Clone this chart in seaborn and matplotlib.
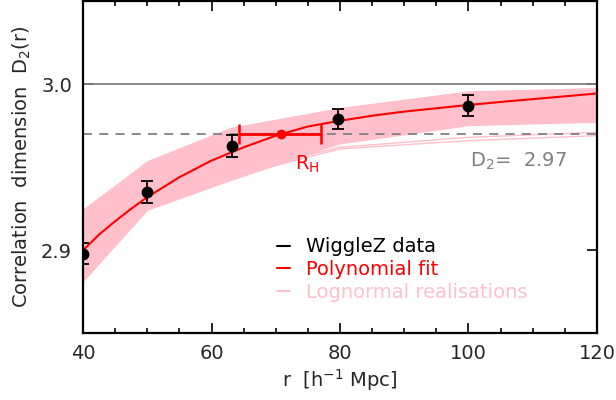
import matplotlib
matplotlib.use("Agg")
import matplotlib.pyplot as plt
from matplotlib.lines import Line2D
from matplotlib.ticker import MultipleLocator
import numpy as np
import pandas as pd
import seaborn as sns

# WiggleZ measurements
r_data = [40.0, 50.0, 63.2, 79.7, 100.0]
d2_data = [2.898, 2.935, 2.963, 2.979, 2.987]
d2_err = [0.0066, 0.0066, 0.0066, 0.0062, 0.0064]

# polynomial fit
r_fit = [40, 42.5, 45, 47.5, 50, 55, 60, 65, 70, 75, 80, 85, 90, 95, 100,
         105, 110, 115, 120]
d2_fit = [2.900, 2.9095, 2.9175, 2.925, 2.932, 2.944, 2.954, 2.962, 2.969,
          2.9745, 2.978, 2.981, 2.9835, 2.9855, 2.9875, 2.9893, 2.991,
          2.9927, 2.9944]

# homogeneity scale
r_h = 70.8
r_h_lo = 6.5
r_h_hi = 6.3
d2_level = 2.97

# lognormal realisations
r_real = [40, 50, 63, 80, 100, 120]
band_lo = [2.881, 2.924, 2.942, 2.964, 2.975, 2.977]
band_hi = [2.925, 2.954, 2.974, 2.986, 2.996, 2.998]
realisations = [
    [2.884, 2.926, 2.944, 2.961, 2.966, 2.969],
    [2.887, 2.928, 2.946, 2.962, 2.968, 2.971],
    [2.921, 2.953, 2.973, 2.985, 2.995, 2.997],
    [2.905, 2.940, 2.960, 2.977, 2.986, 2.989],
]

PINK = "#ffc0cb"
GREY = "#808080"
FS = 14

sns.set_style("ticks")
plt.rcParams["font.family"] = ["DejaVu Sans"]
plt.rcParams["mathtext.default"] = "regular"

fig = plt.figure(figsize=(6.16, 4.0), dpi=100)
ax = fig.add_axes([0.135, 0.167, 0.834, 0.830])

ax.fill_between(r_real, band_lo, band_hi, color=PINK, lw=0, zorder=1)
for values in realisations:
    sns.lineplot(x=r_real, y=values, ax=ax, color=PINK, lw=1.0, zorder=1,
                 legend=False)

ax.axhline(3.0, color=GREY, lw=1.3, zorder=2)
ax.axhline(d2_level, color=GREY, lw=1.3, ls=(0, (5, 4)), zorder=2)

fit_df = pd.DataFrame({"r": r_fit, "d2": d2_fit})
sns.lineplot(data=fit_df, x="r", y="d2", ax=ax, color="red", lw=1.5,
             zorder=3, legend=False)

rh_bar = ax.errorbar(r_h, d2_level, xerr=[[r_h_lo], [r_h_hi]], fmt="o",
                     color="red", ms=6, elinewidth=2.0, capsize=7,
                     capthick=1.8)
for artist in rh_bar.lines[1] + rh_bar.lines[2]:
    artist.set_zorder(6)
rh_bar.lines[0].set_zorder(6)

data_bar = ax.errorbar(r_data, d2_data, yerr=d2_err, fmt="o", color="black",
                       ms=7.5, elinewidth=1.3, capsize=4.5, capthick=1.3)
for artist in data_bar.lines[1] + data_bar.lines[2]:
    artist.set_zorder(7)
data_bar.lines[0].set_zorder(7)

ax.text(73.0, 2.952, r"R$_\mathregular{H}$", color="red", fontsize=FS,
        ha="left", va="center")
ax.text(100.2, 2.9535, r"D$_2$=  2.97", color=GREY, fontsize=FS,
        ha="left", va="center")

ax.set_xlim(40, 120)
ax.set_ylim(2.85, 3.05)
ax.xaxis.set_major_locator(MultipleLocator(20))
ax.xaxis.set_minor_locator(MultipleLocator(5))
ax.yaxis.set_major_locator(MultipleLocator(0.1))
ax.yaxis.set_major_formatter(plt.FormatStrFormatter("%.1f"))
ax.tick_params(which="both", direction="in", top=True, right=True,
               labelsize=FS, width=1.2, pad=8, color="black")
ax.tick_params(which="major", length=7)
ax.tick_params(which="minor", length=3.5)
for spine in ax.spines.values():
    spine.set_linewidth(1.6)
    spine.set_color("black")
    spine.set_zorder(8)

ax.set_xlabel(r"r  [h$^{-1}$ Mpc]", fontsize=FS, labelpad=3)
ax.set_ylabel(r"Correlation  dimension  D$_2$(r)", fontsize=FS, labelpad=6)

handles = [
    Line2D([], [], color="black", lw=1.5),
    Line2D([], [], color="red", lw=1.5),
    Line2D([], [], color=PINK, lw=1.5),
]
labels = ["WiggleZ data", "Polynomial fit", "Lognormal realisations"]
ax.legend(handles, labels, loc="upper left", bbox_to_anchor=(0.362, 0.312),
          frameon=False, fontsize=FS, handlelength=0.65, handletextpad=0.85,
          labelspacing=0.2, labelcolor=["black", "red", PINK],
          borderaxespad=0)

fig.savefig("out.png", dpi=100)
plt.close(fig)
